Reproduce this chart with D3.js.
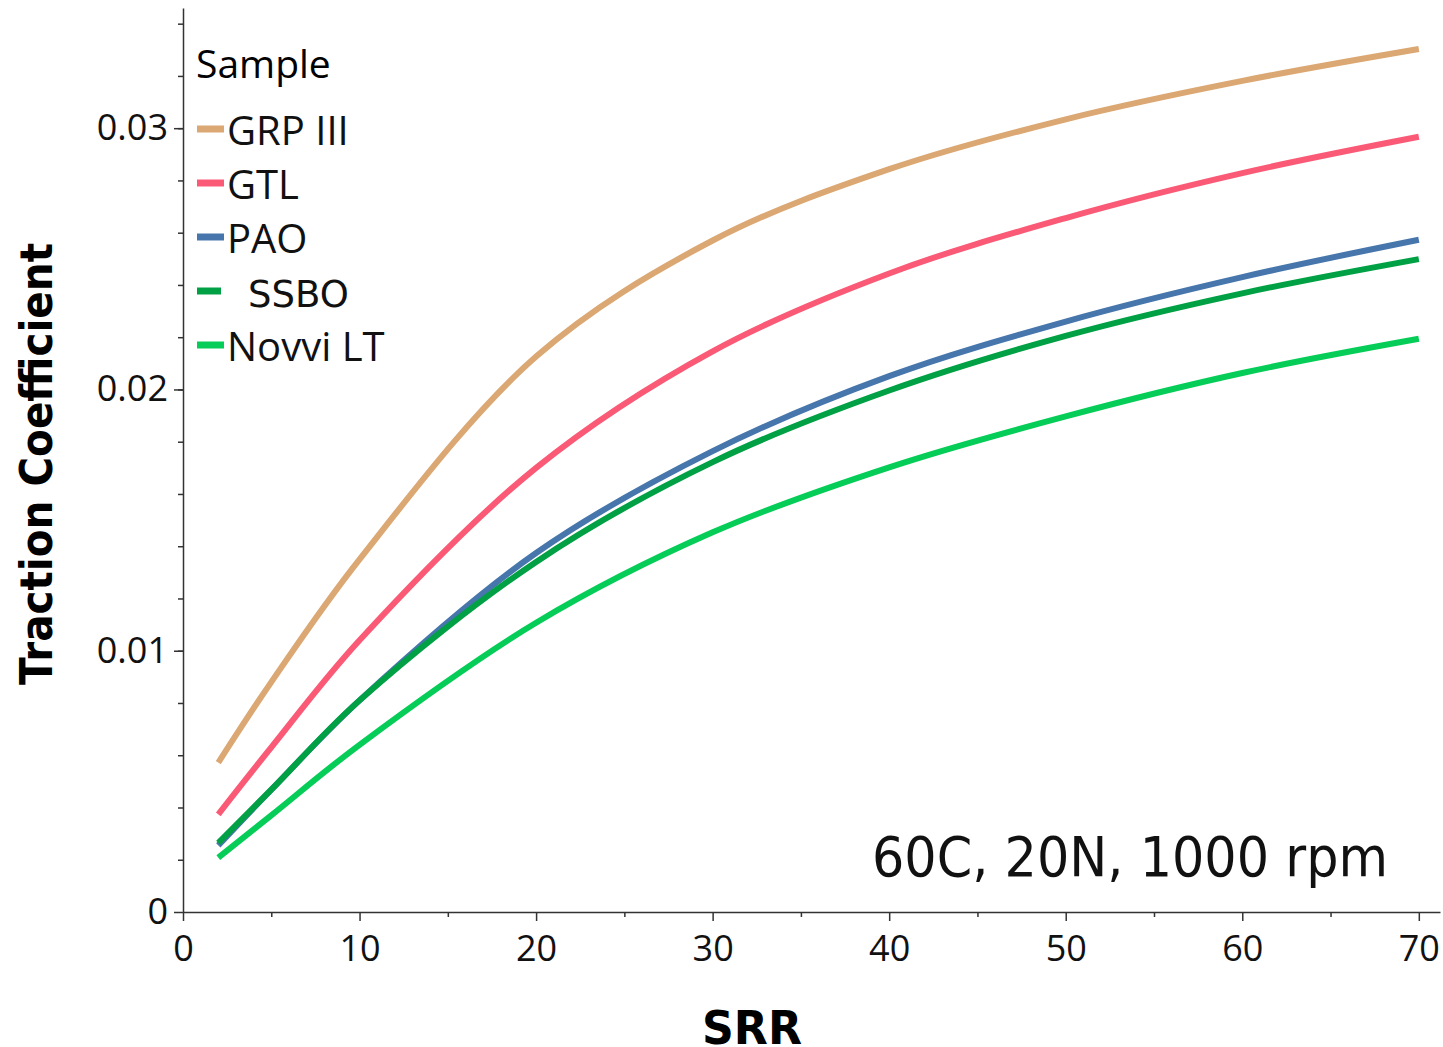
<html>
<style>
    body {
        margin: 0;
        background: #fff;
    }

    .axis path,
    .axis line {
        stroke: #333;
        stroke-width: 1.5px;
    }

    .axis text {
        font-family: "Open Sans", "Noto Sans", sans-serif;
        font-size: 36px;
        fill: #111;
    }

    .curve {
        fill: none;
        stroke-width: 6px;
    }
</style>

<head>
    <title>Traction Coefficient</title>
    <script type="text/javascript" src="https://d3js.org/d3.v7.min.js"></script>
</head>

<body>
    <script>
        var width = 1443;
        var height = 1047;

        // data
        var srr = [2, 5, 10, 20, 30, 40, 50, 60, 70];
        var grp3 = [0.00572, 0.0088, 0.0135, 0.02126, 0.0257, 0.02843, 0.03034, 0.03181, 0.03303];
        var gtl = [0.00374, 0.0063, 0.0104, 0.0170, 0.02146, 0.02444, 0.02656, 0.02828, 0.02967];
        var pao = [0.00255, 0.00468, 0.0081, 0.01374, 0.01764, 0.02051, 0.0226, 0.0243, 0.02573];
        var ssbo = [0.00265, 0.00468, 0.0081, 0.0134, 0.01722, 0.01996, 0.02205, 0.02368, 0.02499];
        var novvi = [0.00208, 0.0037, 0.0064, 0.01107, 0.01453, 0.01702, 0.01897, 0.02063, 0.02194];

        var sampleNames = ["GRP III", "GTL", "PAO", "SSBO", "Novvi LT"];
        var sampleColors = ["#DBA772", "#FA5A76", "#4676AB", "#00A044", "#05CD58"];
        var sampleValues = [grp3, gtl, pao, ssbo, novvi];

        var xTicks = [0, 10, 20, 30, 40, 50, 60, 70];
        var yTicks = [0, 0.01, 0.02, 0.03];

        var svg = d3.select("body")
            .append("svg")
            .attr("width", width)
            .attr("height", height);

        var xScale = d3.scaleLinear().domain([0, 71.2]).range([183, 1440]);
        var yScale = d3.scaleLinear().domain([0, 0.0346]).range([912, 8]);

        //minor ticks first, the major ones go over them
        svg.append("g")
            .attr("class", "axis")
            .attr("transform", "translate(0,912)")
            .call(d3.axisBottom(xScale).tickValues(d3.range(5, 71, 10)).tickSize(5).tickFormat(""))
            .select(".domain").remove();
        svg.append("g")
            .attr("class", "axis")
            .attr("transform", "translate(183,0)")
            .call(d3.axisLeft(yScale).tickValues(d3.range(0.002, 0.0346, 0.002)).tickSize(5).tickFormat(""))
            .select(".domain").remove();

        var xAxis = svg.append("g")
            .attr("class", "axis")
            .attr("transform", "translate(0,912)")
            .call(d3.axisBottom(xScale).tickValues(xTicks).tickSize(9).tickSizeOuter(0).tickPadding(14));
        xAxis.selectAll("text").attr("dy", "0.72em");

        var yAxis = svg.append("g")
            .attr("class", "axis")
            .attr("transform", "translate(183,0)")
            .call(d3.axisLeft(yScale).tickValues(yTicks).tickSize(9).tickSizeOuter(0).tickPadding(6)
                .tickFormat(function (d) { return d === 0 ? "0" : d3.format(".2f")(d); }));

        //curves
        var line = d3.line()
            .x(function (d, i) { return xScale(srr[i]); })
            .y(function (d) { return yScale(d); })
            .curve(d3.curveCatmullRom);

        svg.append("g")
            .selectAll("path")
            .data(sampleValues)
            .enter()
            .append("path")
            .attr("class", "curve")
            .attr("d", line)
            .style("stroke", function (d, i) { return sampleColors[i]; });

        //legend
        var legend = svg.append("g");
        legend.append("text")
            .attr("x", 196)
            .attr("y", 78)
            .style("font-family", "'Open Sans', sans-serif")
            .style("font-size", "39px")
            .text("Sample");

        var items = legend.selectAll(".item")
            .data(sampleNames)
            .enter()
            .append("g")
            .attr("transform", function (d, i) { return "translate(0," + (129 + i * 54) + ")"; });
        items.append("line")
            .attr("x1", 197)
            .attr("x2", function (d, i) { return i === 3 ? 221 : 224; })
            .attr("stroke-width", 7)
            .style("stroke", function (d, i) { return sampleColors[i]; });
        items.append("text")
            .attr("x", function (d, i) { return i === 3 ? 248 : 227; })
            .attr("y", 16)
            .style("font-family", function (d, i) { return i === 3 ? "'DejaVu Sans', sans-serif" : "'Open Sans', sans-serif"; })
            .style("font-size", function (d, i) { return i === 3 ? "37px" : "40px"; })
            .style("fill", "#111")
            .text(function (d) { return d; });

        //condition note
        svg.append("text")
            .attr("x", 872)
            .attr("y", 876)
            .attr("textLength", 516)
            .attr("lengthAdjust", "spacingAndGlyphs")
            .style("font-family", "'DejaVu Sans', sans-serif")
            .style("font-size", "56px")
            .style("fill", "#111")
            .text("60C, 20N, 1000 rpm");

        //axis titles
        svg.append("text")
            .attr("transform", "translate(52,464) rotate(-90)")
            .attr("text-anchor", "middle")
            .attr("textLength", 442)
            .attr("lengthAdjust", "spacingAndGlyphs")
            .style("font-family", "'DejaVu Sans', sans-serif")
            .style("font-weight", "bold")
            .style("font-size", "44px")
            .text("Traction Coefficient");

        svg.append("text")
            .attr("x", 752)
            .attr("y", 1044)
            .attr("text-anchor", "middle")
            .attr("textLength", 100)
            .attr("lengthAdjust", "spacingAndGlyphs")
            .style("font-family", "'DejaVu Sans', sans-serif")
            .style("font-weight", "bold")
            .style("font-size", "46px")
            .text("SRR");
    </script>
</body>

</html>
